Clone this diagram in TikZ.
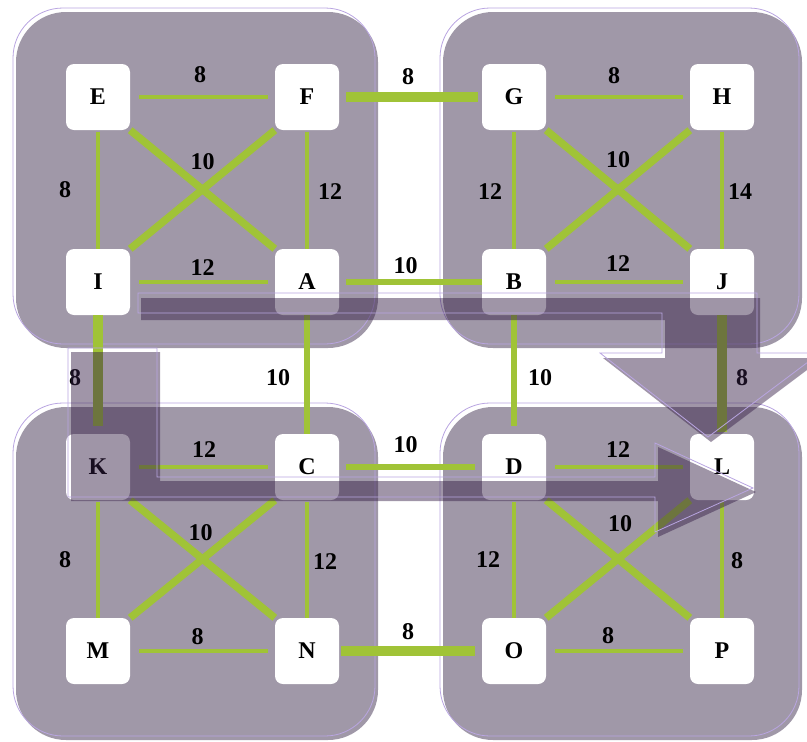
\documentclass[tikz,border=0pt]{standalone}
\usepackage{fontspec}
\setmainfont{Liberation Serif}
\usepackage{tikz}
\usepackage{xcolor}

\definecolor{zonefill}{RGB}{160,152,168}
\definecolor{zoneline}{RGB}{185,165,225}
\definecolor{edgegreen}{RGB}{160,195,55}
\definecolor{arrowfill}{RGB}{53,30,70}

\tikzset{
  zone/.style={fill=zonefill, rounded corners=50pt},
  zoneedge/.style={draw=zoneline, line width=0.8pt, rounded corners=50pt},
  vertex/.style={rectangle, fill=white, rounded corners=8pt, minimum width=64pt, minimum height=66pt, inner sep=0pt, font=\bfseries\fontsize{24}{24}\selectfont},
  wt/.style={font=\bfseries\fontsize{24}{24}\selectfont, inner sep=0pt},
  sideline/.style={draw=edgegreen, line width=3.5pt},
  crossline/.style={draw=edgegreen, line width=7.5pt},
  bigbridge/.style={draw=edgegreen, line width=10pt},
  midbridge/.style={draw=edgegreen, line width=6pt},
  bigarrow/.style={fill=arrowfill, fill opacity=0.47},
  bigarrowedge/.style={draw=zoneline, line width=0.8pt}
}

\begin{document}
\begin{tikzpicture}[x=1pt, y=-1pt]
\useasboundingbox (0,0) rectangle (807,742);
\clip (0,0) rectangle (807,742);

% four zones
\fill[zone] (16,12) rectangle (378,348);
\draw[zoneedge] (13,8) rectangle (375,344);
\fill[zone] (443,12) rectangle (802,348);
\draw[zoneedge] (440,8) rectangle (799,344);
\fill[zone] (16,407) rectangle (378,740);
\draw[zoneedge] (13,403) rectangle (375,736);
\fill[zone] (443,407) rectangle (802,740);
\draw[zoneedge] (440,403) rectangle (799,736);

% vertices
\node[vertex] (E) at (98,97) {E};
\node[vertex] (F) at (307,97) {F};
\node[vertex] (G) at (514,97) {G};
\node[vertex] (H) at (722,97) {H};
\node[vertex] (I) at (98,282) {I};
\node[vertex] (A) at (307,282) {A};
\node[vertex] (B) at (514,282) {B};
\node[vertex] (J) at (722,282) {J};
\node[vertex] (K) at (98,467) {K};
\node[vertex] (C) at (307,467) {C};
\node[vertex] (D) at (514,467) {D};
\node[vertex] (L) at (722,467) {L};
\node[vertex] (M) at (98,651) {M};
\node[vertex] (N) at (307,651) {N};
\node[vertex] (O) at (514,651) {O};
\node[vertex] (P) at (722,651) {P};

% edges inside the zones
\draw[sideline, shorten <=9pt, shorten >=7pt] (E) -- node[wt, xshift=-2.5pt, yshift=22pt] (wEF) {8} (F);
\draw[sideline, shorten <=9pt, shorten >=7pt] (I) -- node[wt, yshift=14pt] (wIA) {12} (A);
\draw[sideline, shorten <=2pt] (E) -- node[wt, xshift=-33pt] (wEI) {8} (I);
\draw[sideline, shorten <=2pt] (F) -- node[wt, xshift=23pt, yshift=-2.5pt] (wFA) {12} (A);
\draw[crossline] (E.south east) -- node[wt, yshift=27.5pt] (wEA) {10} (A.north west);
\draw[crossline] (F.south west) -- (I.north east);

\draw[sideline, shorten <=9pt, shorten >=7pt] (G) -- node[wt, xshift=-4pt, yshift=21pt] (wGH) {8} (H);
\draw[sideline, shorten <=9pt, shorten >=7pt] (B) -- node[wt, yshift=18pt] (wBJ) {12} (J);
\draw[sideline, shorten <=2pt] (G) -- node[wt, xshift=-24pt, yshift=-2.5pt] (wGB) {12} (B);
\draw[sideline, shorten <=2pt] (H) -- node[wt, xshift=18pt, yshift=-2.5pt] (wHJ) {14} (J);
\draw[crossline] (G.south east) -- node[wt, yshift=29.5pt] (wGJ) {10} (J.north west);
\draw[crossline] (H.south west) -- (B.north east);

\draw[sideline, shorten <=9pt, shorten >=7pt] (K) -- node[wt, xshift=1.5pt, yshift=17pt] (wKC) {12} (C);
\draw[sideline, shorten <=9pt, shorten >=7pt] (M) -- node[wt, xshift=-5pt, yshift=14pt] (wMN) {8} (N);
\draw[sideline, shorten <=2pt] (K) -- node[wt, xshift=-33pt, yshift=-1pt] (wKM) {8} (M);
\draw[sideline, shorten <=2pt] (C) -- node[wt, xshift=18pt, yshift=-3pt] (wCN) {12} (N);
\draw[crossline] (K.south east) -- node[wt, xshift=-2pt, yshift=26pt] (wKN) {10} (N.north west);
\draw[crossline] (C.south west) -- (M.north east);

\draw[sideline, shorten <=9pt, shorten >=7pt] (D) -- node[wt, yshift=17pt] (wDL) {12} (L);
\draw[sideline, shorten <=9pt, shorten >=7pt] (O) -- node[wt, xshift=-10pt, yshift=15pt] (wOP) {8} (P);
\draw[sideline, shorten <=2pt] (D) -- node[wt, xshift=-26pt, yshift=-1pt] (wDO) {12} (O);
\draw[sideline, shorten <=2pt] (L) -- node[wt, xshift=15pt, yshift=-2pt] (wLP) {8} (P);
\draw[crossline] (D.south east) -- node[wt, xshift=2pt, yshift=35pt] (wDP) {10} (P.north west);
\draw[crossline] (L.south west) -- (O.north east);

% edges between the zones
\draw[bigbridge, shorten <=7pt, shorten >=4pt] (F) -- node[wt, xshift=-2.5pt, yshift=20pt] (wFG) {8} (G);
\draw[midbridge, shorten <=7pt] (A) -- node[wt, xshift=-5pt, yshift=16pt] (wAB) {10} (B);
\draw[midbridge, shorten <=7pt, shorten >=7pt] (C) -- node[wt, xshift=-5pt, yshift=22pt] (wCD) {10} (D);
\draw[bigbridge, shorten <=2pt, shorten >=7pt] (N) -- node[wt, xshift=-2.5pt, yshift=19pt] (wNO) {8} (O);
\draw[bigbridge, shorten >=8pt] (I) -- node[wt, xshift=-23pt, yshift=-3.5pt] (wIK) {8} (K);
\draw[midbridge] (A) -- node[wt, xshift=-29pt, yshift=-3.5pt] (wAC) {10} (C);
\draw[midbridge, shorten >=8pt] (B) -- node[wt, xshift=26pt, yshift=-3.5pt] (wBD) {10} (D);
\draw[bigbridge, shorten >=2pt] (J) -- node[wt, xshift=20pt, yshift=-3.5pt] (wJL) {8} (L);

% the two route arrows
\fill[bigarrow] (141,298) -- (760,298) -- (760,358) -- (823,358) -- (711,442) -- (603,358) -- (665,358) -- (665,320) -- (141,320) -- cycle;
\draw[bigarrowedge] (138,293) -- (757,293) -- (757,353) -- (820,353) -- (708,437) -- (600,353) -- (662,353) -- (662,313) -- (138,313) -- cycle;
\fill[bigarrow] (71,352) -- (160,352) -- (160,481) -- (658,481) -- (658,447) -- (756,492) -- (658,537) -- (658,501) -- (71,501) -- cycle;
\draw[bigarrowedge] (68,348) -- (157,348) -- (157,477) -- (655,477) -- (655,443) -- (753,488) -- (655,532) -- (655,497) -- (68,497) -- cycle;
\end{tikzpicture}
\end{document}
